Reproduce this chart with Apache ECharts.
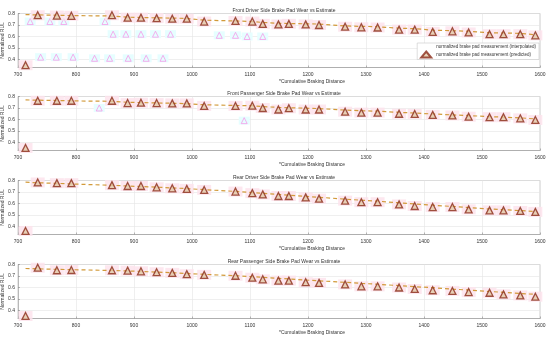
<!DOCTYPE html>
<html><head><meta charset="utf-8">
<script src="https://cdn.jsdelivr.net/npm/echarts@6/dist/echarts.min.js"></script>
<style>html,body{margin:0;padding:0;background:#fff}#c{width:550px;height:338px}</style>
</head><body><div id="c"></div>
<script>
const distance = [713,734,767,792,862,889,912,939,966,991,1021,1075,1104,1122,1149,1167,1196,1219,1264,1292,1320,1357,1384,1415,1449,1477,1513,1537,1566,1592];
const titles = ['Front Driver Side Brake Pad Wear vs Estimate','Front Passenger Side Brake Pad Wear vs Estimate','Rear Driver Side Brake Pad Wear vs Estimate','Rear Passenger Side Brake Pad Wear vs Estimate'];
const measFD = [0.35,0.785,0.782,0.78,0.785,0.764,0.764,0.76,0.755,0.755,0.73,0.735,0.73,0.71,0.705,0.71,0.705,0.70,0.685,0.68,0.678,0.66,0.66,0.64,0.645,0.635,0.62,0.62,0.62,0.61];
const estFD  = [0.79,0.788,0.785,0.782,0.778,0.768,0.765,0.762,0.76,0.757,0.742,0.735,0.73,0.722,0.715,0.713,0.71,0.708,0.692,0.688,0.685,0.672,0.668,0.655,0.65,0.645,0.632,0.63,0.627,0.615];
const measFP = [0.352,0.763,0.763,0.763,0.763,0.743,0.746,0.743,0.74,0.74,0.718,0.718,0.72,0.70,0.687,0.698,0.687,0.687,0.668,0.66,0.66,0.65,0.648,0.64,0.635,0.624,0.62,0.62,0.61,0.596];
const estFP  = [0.77,0.768,0.765,0.762,0.758,0.75,0.747,0.744,0.741,0.738,0.728,0.722,0.72,0.712,0.705,0.702,0.698,0.695,0.682,0.676,0.672,0.662,0.656,0.648,0.64,0.634,0.625,0.62,0.614,0.605];
const measRD = [0.361,0.783,0.777,0.777,0.76,0.752,0.752,0.741,0.732,0.727,0.718,0.704,0.69,0.679,0.665,0.665,0.653,0.642,0.625,0.611,0.611,0.592,0.578,0.569,0.569,0.549,0.54,0.54,0.535,0.527];
const estRD  = [0.785,0.78,0.775,0.77,0.758,0.752,0.747,0.742,0.735,0.73,0.72,0.705,0.695,0.688,0.678,0.672,0.662,0.654,0.638,0.628,0.62,0.606,0.596,0.584,0.574,0.564,0.552,0.546,0.538,0.53];
const measRP = [0.352,0.772,0.75,0.752,0.75,0.747,0.741,0.733,0.727,0.716,0.71,0.702,0.685,0.671,0.66,0.66,0.646,0.64,0.627,0.61,0.61,0.60,0.587,0.576,0.57,0.56,0.554,0.54,0.531,0.52];
const estRP  = [0.765,0.762,0.758,0.755,0.748,0.744,0.74,0.734,0.728,0.722,0.714,0.702,0.694,0.688,0.68,0.674,0.665,0.658,0.645,0.636,0.628,0.616,0.607,0.598,0.586,0.577,0.565,0.558,0.548,0.54];
const interpX1 = [721,755,779,850,864,886,912,937,963,1047,1075,1095,1122,739,766,795,832,858,890,921,950];
const interpY1 = [0.73,0.73,0.73,0.73,0.62,0.62,0.62,0.62,0.62,0.61,0.61,0.60,0.60,0.42,0.42,0.42,0.41,0.41,0.41,0.41,0.41];
const interpX2 = [840,1090];
const interpY2 = [0.70,0.59];
const yTicks = [0.4,0.5,0.6,0.7,0.8];
const xLabel = '*Cumulative Braking Distance';
const yLabel = 'Normalized RUL';
const nameInterp = 'normalized brake pad measurement (interpolated)';
const namePred = 'normalized brake pad measurement (predicted)';

const meas = [measFD, measFP, measRD, measRP];
const est = [estFD, estFP, estRD, estRP];
const interp = [[interpX1, interpY1],[interpX2, interpY2],[[],[]],[[],[]]];
const tops = [13.5, 96.5, 180.5, 264.5];
const H = 54, L = 18, R = 10;
const cx = L + (550 - L - R) / 2;
const pair = (xs, ys) => xs.map((x, i) => [x, ys[i]]);

const grid = [], xAxis = [], yAxis = [], series = [], title = [], graphic = [];
for (let i = 0; i < 4; i++) {
  grid.push({left: L, right: R, top: tops[i], height: H, show: true, borderColor: '#b0b0b0', borderWidth: 0.6, backgroundColor: '#fff'});
  xAxis.push({gridIndex: i, type: 'value', min: 700, max: 1600, interval: 100,
    axisLine: {lineStyle: {color: '#999', width: 0.6}},
    axisTick: {inside: true, length: 2, lineStyle: {color: '#888', width: 0.6}},
    axisLabel: {fontSize: 5, color: '#333', margin: 5, fontFamily: 'Liberation Sans', formatter: v => String(v)},
    splitLine: {show: true, lineStyle: {color: '#e4e4e4', width: 0.6}}});
  yAxis.push({gridIndex: i, type: 'value', min: 0.33, max: 0.8,
    axisLine: {show: true, lineStyle: {color: '#999', width: 0.6}},
    axisTick: {show: true, inside: true, length: 2, customValues: yTicks, lineStyle: {color: '#888', width: 0.6}},
    axisLabel: {fontSize: 5, color: '#333', margin: 3, customValues: yTicks, formatter: v => v.toFixed(1), fontFamily: 'Liberation Sans'},
    splitLine: {show: true, lineStyle: {color: '#e4e4e4', width: 0.6}}});
  title.push({text: titles[i], left: cx, textAlign: 'center', top: tops[i] - 10,
    textStyle: {fontSize: 5, fontWeight: 'normal', color: '#333', fontFamily: 'Liberation Sans'}});
  graphic.push({type: 'text', left: cx, top: tops[i] + H + 12, style: {text: xLabel, fontSize: 5, fill: '#333', fontFamily: 'Liberation Sans', textAlign: 'center'}});
  graphic.push({type: 'text', x: 3, y: tops[i] + H / 2, rotation: Math.PI / 2,
    style: {text: yLabel, fontSize: 5, fill: '#333', fontFamily: 'Liberation Sans', align: 'center', verticalAlign: 'middle'}});
  const ip = pair(interp[i][0], interp[i][1]);
  series.push({type: 'scatter', xAxisIndex: i, yAxisIndex: i, symbol: 'rect', symbolSize: [11, 8], silent: true,
    itemStyle: {color: '#e6feff', opacity: 1}, data: ip, z: 1});
  series.push({name: nameInterp, type: 'scatter', xAxisIndex: i, yAxisIndex: i, symbol: 'triangle', symbolSize: 6,
    itemStyle: {color: 'rgba(255,255,255,0)', borderColor: '#f59ae9', borderWidth: 1}, data: ip, z: 2});
  const mp = pair(distance, meas[i]);
  series.push({type: 'scatter', xAxisIndex: i, yAxisIndex: i, symbol: 'rect', symbolSize: [14, 10], silent: true,
    itemStyle: {color: '#fde3ec', opacity: 0.85}, data: mp, z: 3});
  series.push({type: 'line', xAxisIndex: i, yAxisIndex: i, showSymbol: false, silent: true,
    lineStyle: {color: '#d29a3a', width: 1.2, type: [4, 3]}, data: pair(distance, est[i]), z: 4});
  series.push({name: namePred, type: 'scatter', xAxisIndex: i, yAxisIndex: i, symbol: 'triangle', symbolSize: 7,
    itemStyle: {color: '#e2c9a8', borderColor: '#8a2a18', borderWidth: 1.3}, data: mp, z: 5});
}
const chart = echarts.init(document.getElementById('c'), null, {renderer: 'canvas'});
chart.setOption({
  animation: false,
  backgroundColor: '#fff',
  title, grid, xAxis, yAxis, series, graphic,
  legend: {orient: 'vertical', right: 11, top: 43, itemWidth: 10, itemHeight: 6, itemGap: 1,
    padding: [1, 3, 1, 3], backgroundColor: '#fff', borderColor: '#c8c8c8', borderWidth: 0.6,
    textStyle: {fontSize: 4.5, color: '#333', fontFamily: 'Liberation Sans'},
    data: [{name: nameInterp, icon: 'none'}, {name: namePred}]}
});
</script></body></html>
